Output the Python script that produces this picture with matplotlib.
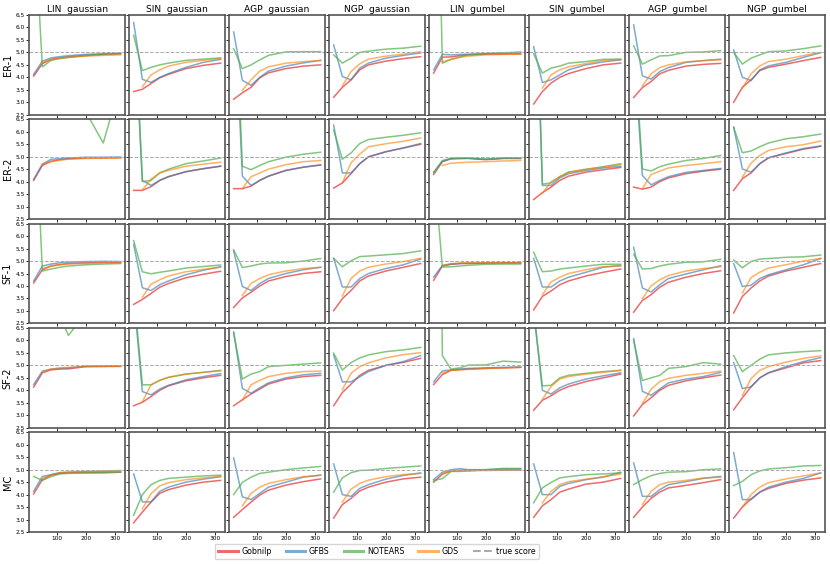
import matplotlib
matplotlib.use("Agg")
from matplotlib import pyplot as plt
from matplotlib.lines import Line2D

nan = float("nan")

n_samples = [20, 50, 80, 110, 140, 200, 260, 320]
columns = ["LIN  gaussian", "SIN  gaussian", "AGP  gaussian", "NGP  gaussian",
           "LIN  gumbel", "SIN  gumbel", "AGP  gumbel", "NGP  gumbel"]
rows = ["ER-1", "ER-2", "SF-1", "SF-2", "MC"]
true_score = 5.0

# one list per column, for each method and graph type
gobnilp_er1 = [
    [4.05, 4.55, 4.72, 4.78, 4.82, 4.88, 4.92, 4.95],
    [3.43, 3.52, 3.75, 3.98, 4.12, 4.35, 4.48, 4.57],
    [3.12, 3.38, 3.6, 3.98, 4.18, 4.35, 4.45, 4.5],
    [3.2, 3.6, 3.9, 4.3, 4.5, 4.65, 4.75, 4.83],
    [4.17, 4.81, 4.82, 4.87, 4.9, 4.93, 4.93, 4.94],
    [2.93, 3.43, 3.77, 4.0, 4.15, 4.35, 4.5, 4.57],
    [3.19, 3.59, 3.83, 4.14, 4.28, 4.45, 4.52, 4.56],
    [3.0, 3.6, 3.9, 4.27, 4.4, 4.53, 4.67, 4.8]]
gfbs_er1 = [
    [4.12, 4.65, 4.78, 4.83, 4.87, 4.92, 4.95, 4.97],
    [6.2, 3.92, 3.8, 4.0, 4.15, 4.4, 4.6, 4.72],
    [5.82, 3.88, 3.68, 4.0, 4.25, 4.45, 4.58, 4.68],
    [5.3, 4.03, 3.9, 4.37, 4.57, 4.77, 4.88, 4.98],
    [4.3, 4.92, 4.9, 4.92, 4.93, 4.95, 4.97, 4.98],
    [5.23, 3.79, 3.9, 4.1, 4.3, 4.5, 4.62, 4.7],
    [6.1, 4.06, 3.93, 4.23, 4.39, 4.6, 4.67, 4.73],
    [5.1, 4.0, 3.87, 4.3, 4.46, 4.6, 4.8, 4.99]]
notears_er1 = [
    [10.8, 4.42, 4.68, 4.75, 4.8, 4.87, 4.92, 4.95],
    [5.69, 4.27, 4.4, 4.5, 4.57, 4.68, 4.73, 4.78],
    [5.15, 4.35, 4.5, 4.7, 4.88, 5.02, 5.03, 5.03],
    [4.9, 4.57, 4.77, 5.0, 5.05, 5.13, 5.17, 5.25],
    [20.0, 4.57, 4.72, 4.82, 4.9, 4.95, 4.98, 5.02],
    [4.94, 4.17, 4.37, 4.45, 4.57, 4.63, 4.72, 4.73],
    [5.26, 4.53, 4.7, 4.86, 4.87, 5.0, 5.02, 5.07],
    [5.0, 4.53, 4.77, 4.9, 5.03, 5.06, 5.15, 5.26]]
gds_er1 = [
    [nan, 4.6, 4.72, 4.77, 4.8, 4.85, 4.88, 4.9],
    [nan, 3.62, 4.1, 4.3, 4.45, 4.6, 4.68, 4.75],
    [nan, 3.48, 3.9, 4.25, 4.42, 4.57, 4.63, 4.68],
    [nan, 3.66, 4.23, 4.54, 4.73, 4.85, 4.93, 5.03],
    [nan, 4.62, 4.72, 4.8, 4.85, 4.9, 4.92, 4.93],
    [nan, 3.57, 4.1, 4.3, 4.42, 4.55, 4.68, 4.72],
    [nan, 3.66, 4.14, 4.39, 4.5, 4.62, 4.67, 4.7],
    [nan, 3.57, 4.14, 4.46, 4.63, 4.73, 4.87, 5.0]]

gobnilp_er2 = [
    [4.05, 4.65, 4.82, 4.88, 4.92, 4.95, 4.95, 4.96],
    [3.65, 3.65, 3.8, 4.05, 4.2, 4.4, 4.52, 4.62],
    [3.72, 3.72, 3.82, 4.05, 4.22, 4.45, 4.58, 4.67],
    [3.74, 3.95, 4.32, 4.72, 5.0, 5.2, 5.35, 5.5],
    [4.29, 4.8, 4.92, 4.93, 4.93, 4.88, 4.93, 4.93],
    [3.28, 3.56, 3.78, 4.05, 4.22, 4.38, 4.48, 4.57],
    [3.78, 3.7, 3.78, 4.0, 4.15, 4.32, 4.42, 4.5],
    [3.65, 4.12, 4.35, 4.72, 4.95, 5.13, 5.3, 5.42]]
gfbs_er2 = [
    [4.1, 4.7, 4.9, 4.92, 4.95, 4.98, 4.98, 4.99],
    [11.0, 4.05, 3.85, 4.05, 4.2, 4.4, 4.52, 4.62],
    [12.0, 4.22, 3.85, 4.05, 4.22, 4.45, 4.58, 4.67],
    [6.27, 4.35, 4.35, 4.72, 4.99, 5.2, 5.35, 5.53],
    [4.38, 4.82, 4.92, 4.93, 4.94, 4.9, 4.94, 4.95],
    [15.0, 3.85, 3.85, 4.15, 4.32, 4.45, 4.55, 4.62],
    [9.5, 4.25, 3.87, 4.05, 4.2, 4.37, 4.45, 4.53],
    [6.18, 4.51, 4.38, 4.72, 4.96, 5.15, 5.33, 5.43]]
notears_er2 = [
    [12.0, 10.0, 9.0, 8.0, 7.5, 6.8, 5.55, 8.0],
    [11.6, 4.0, 4.05, 4.35, 4.5, 4.72, 4.83, 4.95],
    [13.3, 4.62, 4.48, 4.65, 4.8, 4.98, 5.1, 5.18],
    [6.07, 4.9, 5.15, 5.53, 5.69, 5.78, 5.86, 5.96],
    [4.35, 4.85, 4.93, 4.95, 4.95, 4.9, 4.95, 4.96],
    [15.3, 3.9, 3.95, 4.2, 4.38, 4.5, 4.6, 4.72],
    [10.0, 4.51, 4.43, 4.6, 4.7, 4.85, 4.93, 5.05],
    [6.18, 5.16, 5.23, 5.4, 5.55, 5.72, 5.8, 5.91]]
gds_er2 = [
    [nan, 4.72, 4.8, 4.86, 4.9, 4.93, 4.94, 4.95],
    [nan, 3.67, 4.1, 4.35, 4.45, 4.62, 4.7, 4.78],
    [nan, 3.72, 4.2, 4.35, 4.5, 4.68, 4.8, 4.85],
    [nan, 3.95, 4.76, 5.1, 5.4, 5.52, 5.62, 5.75],
    [nan, 4.65, 4.74, 4.76, 4.78, 4.8, 4.83, 4.85],
    [nan, 3.53, 4.0, 4.2, 4.38, 4.48, 4.58, 4.68],
    [nan, 3.72, 4.29, 4.42, 4.55, 4.65, 4.72, 4.8],
    [nan, 4.18, 4.74, 5.05, 5.25, 5.4, 5.48, 5.63]]

gobnilp_sf1 = [
    [4.12, 4.65, 4.8, 4.86, 4.9, 4.93, 4.95, 4.95],
    [3.26, 3.46, 3.7, 3.95, 4.1, 4.33, 4.47, 4.59],
    [3.14, 3.52, 3.75, 4.0, 4.2, 4.38, 4.5, 4.57],
    [3.01, 3.49, 3.82, 4.2, 4.4, 4.6, 4.75, 4.9],
    [4.23, 4.8, 4.87, 4.9, 4.9, 4.92, 4.93, 4.93],
    [3.04, 3.58, 3.8, 4.05, 4.2, 4.4, 4.55, 4.68],
    [2.95, 3.42, 3.65, 3.95, 4.15, 4.35, 4.5, 4.61],
    [2.92, 3.58, 3.92, 4.2, 4.4, 4.6, 4.75, 4.9]]
gfbs_sf1 = [
    [4.2, 4.8, 4.88, 4.93, 4.96, 4.98, 4.99, 4.98],
    [5.67, 3.93, 3.82, 4.05, 4.2, 4.45, 4.63, 4.77],
    [5.4, 3.98, 3.82, 4.1, 4.3, 4.5, 4.65, 4.75],
    [5.11, 3.96, 3.96, 4.3, 4.5, 4.7, 4.85, 5.08],
    [4.36, 4.82, 4.88, 4.9, 4.92, 4.92, 4.93, 4.93],
    [5.11, 3.96, 3.96, 4.2, 4.35, 4.55, 4.75, 4.82],
    [5.55, 3.92, 3.76, 4.05, 4.3, 4.48, 4.65, 4.81],
    [4.9, 3.98, 4.03, 4.3, 4.45, 4.65, 4.85, 5.1]]
notears_sf1 = [
    [12.5, 4.6, 4.68, 4.75, 4.8, 4.85, 4.88, 4.9],
    [5.82, 4.57, 4.49, 4.55, 4.6, 4.72, 4.78, 4.84],
    [5.45, 4.74, 4.8, 4.88, 4.92, 4.93, 5.0, 5.1],
    [5.11, 4.77, 5.01, 5.18, 5.2, 5.25, 5.3, 5.41],
    [8.9, 4.76, 4.77, 4.8, 4.83, 4.87, 4.88, 4.88],
    [5.35, 4.57, 4.6, 4.68, 4.72, 4.8, 4.87, 4.87],
    [5.27, 4.68, 4.7, 4.8, 4.87, 4.95, 4.97, 5.07],
    [5.04, 4.73, 4.98, 5.08, 5.1, 5.15, 5.17, 5.24]]
gds_sf1 = [
    [nan, 4.7, 4.8, 4.85, 4.88, 4.9, 4.92, 4.92],
    [nan, 3.55, 4.07, 4.25, 4.4, 4.57, 4.67, 4.75],
    [nan, 3.62, 4.1, 4.3, 4.45, 4.6, 4.7, 4.75],
    [nan, 3.6, 4.3, 4.6, 4.75, 4.88, 4.98, 5.11],
    [nan, 4.82, 4.9, 4.92, 4.93, 4.93, 4.94, 4.94],
    [nan, 3.65, 4.16, 4.35, 4.5, 4.65, 4.78, 4.8],
    [nan, 3.5, 4.0, 4.25, 4.42, 4.6, 4.7, 4.77],
    [nan, 3.72, 4.34, 4.55, 4.72, 4.85, 5.0, 5.11]]

gobnilp_sf2 = [
    [4.13, 4.7, 4.82, 4.85, 4.86, 4.95, 4.96, 4.97],
    [3.38, 3.52, 3.75, 4.0, 4.18, 4.38, 4.5, 4.6],
    [3.38, 3.62, 3.85, 4.05, 4.25, 4.45, 4.55, 4.6],
    [3.38, 3.91, 4.25, 4.6, 4.8, 5.0, 5.12, 5.28],
    [4.23, 4.63, 4.8, 4.83, 4.85, 4.88, 4.9, 4.92],
    [3.2, 3.6, 3.78, 4.0, 4.15, 4.35, 4.5, 4.65],
    [2.97, 3.43, 3.7, 4.0, 4.2, 4.38, 4.5, 4.61],
    [3.22, 3.7, 4.14, 4.5, 4.7, 4.9, 5.1, 5.19]]
gfbs_sf2 = [
    [4.23, 4.77, 4.85, 4.88, 4.9, 4.97, 4.98, 4.98],
    [7.8, 3.95, 3.82, 4.05, 4.2, 4.42, 4.55, 4.67],
    [6.34, 4.08, 3.88, 4.1, 4.3, 4.5, 4.62, 4.68],
    [5.42, 4.34, 4.34, 4.54, 4.75, 5.0, 5.15, 5.39],
    [4.34, 4.78, 4.82, 4.85, 4.88, 4.9, 4.92, 4.93],
    [7.2, 4.0, 3.85, 4.1, 4.25, 4.45, 4.58, 4.7],
    [6.07, 3.96, 3.8, 4.05, 4.3, 4.45, 4.55, 4.72],
    [5.11, 4.07, 4.14, 4.5, 4.7, 4.95, 5.15, 5.31]]
notears_sf2 = [
    [12.0, 10.0, 8.5, 7.0, 6.2, 7.1, 8.0, 9.0],
    [8.0, 4.22, 4.22, 4.4, 4.52, 4.65, 4.72, 4.8],
    [6.3, 4.45, 4.65, 4.75, 4.95, 5.0, 5.05, 5.1],
    [5.49, 4.81, 5.11, 5.3, 5.42, 5.55, 5.62, 5.72],
    [40.0, 5.39, 4.85, 4.9, 5.01, 5.02, 5.17, 5.13],
    [7.2, 4.18, 4.2, 4.5, 4.6, 4.68, 4.75, 4.8],
    [6.0, 4.39, 4.5, 4.6, 4.88, 4.95, 5.11, 5.05],
    [5.39, 4.75, 5.0, 5.25, 5.42, 5.5, 5.55, 5.59]]
gds_sf2 = [
    [nan, 4.72, 4.85, 4.9, 4.92, 4.95, 4.95, 4.95],
    [nan, 3.54, 4.22, 4.4, 4.52, 4.65, 4.72, 4.78],
    [nan, 3.6, 4.22, 4.4, 4.55, 4.68, 4.75, 4.77],
    [nan, 4.03, 4.68, 4.95, 5.1, 5.3, 5.43, 5.51],
    [nan, 4.7, 4.8, 4.82, 4.84, 4.87, 4.9, 4.92],
    [nan, 3.64, 4.15, 4.45, 4.55, 4.65, 4.72, 4.8],
    [nan, 3.47, 4.04, 4.35, 4.48, 4.6, 4.68, 4.77],
    [nan, 3.8, 4.47, 4.8, 4.95, 5.13, 5.28, 5.38]]

gobnilp_mc = [
    [4.03, 4.6, 4.78, 4.85, 4.88, 4.88, 4.88, 4.9],
    [2.87, 3.3, 3.7, 4.05, 4.2, 4.38, 4.5, 4.57],
    [3.09, 3.4, 3.7, 3.98, 4.18, 4.38, 4.52, 4.63],
    [3.06, 3.6, 3.85, 4.15, 4.3, 4.5, 4.63, 4.7],
    [4.5, 4.82, 4.95, 4.97, 4.97, 4.97, 4.98, 4.98],
    [3.09, 3.55, 3.8, 4.1, 4.22, 4.42, 4.5, 4.65],
    [3.09, 3.5, 3.85, 4.1, 4.27, 4.37, 4.48, 4.6],
    [3.06, 3.5, 3.83, 4.1, 4.25, 4.45, 4.58, 4.67]]
gfbs_mc = [
    [4.13, 4.73, 4.8, 4.88, 4.9, 4.92, 4.93, 4.95],
    [4.83, 3.71, 3.71, 4.13, 4.3, 4.5, 4.62, 4.72],
    [5.47, 3.91, 3.8, 4.05, 4.3, 4.5, 4.7, 4.78],
    [5.23, 4.0, 3.93, 4.25, 4.4, 4.62, 4.77, 4.87],
    [4.6, 4.9, 5.0, 5.04, 5.0, 5.0, 5.03, 5.03],
    [5.23, 4.0, 4.0, 4.33, 4.45, 4.6, 4.7, 4.9],
    [5.27, 3.93, 3.93, 4.2, 4.4, 4.52, 4.65, 4.73],
    [5.69, 3.8, 3.8, 4.1, 4.3, 4.5, 4.65, 4.87]]
notears_mc = [
    [4.73, 4.57, 4.72, 4.83, 4.85, 4.87, 4.88, 4.9],
    [3.17, 4.0, 4.4, 4.57, 4.65, 4.7, 4.75, 4.78],
    [4.0, 4.49, 4.7, 4.85, 4.9, 5.0, 5.07, 5.13],
    [4.1, 4.67, 4.88, 4.97, 4.98, 5.05, 5.1, 5.15],
    [4.57, 4.64, 4.93, 4.93, 4.95, 5.0, 5.05, 5.05],
    [3.67, 4.27, 4.49, 4.67, 4.72, 4.8, 4.83, 4.87],
    [4.4, 4.6, 4.76, 4.85, 4.9, 4.92, 5.0, 5.03],
    [4.36, 4.53, 4.8, 4.95, 5.03, 5.08, 5.15, 5.17]]
gds_mc = [
    [nan, 4.65, 4.8, 4.88, 4.9, 4.93, 4.95, 4.97],
    [nan, 3.43, 4.04, 4.35, 4.48, 4.6, 4.67, 4.73],
    [nan, 3.55, 4.05, 4.3, 4.45, 4.6, 4.72, 4.78],
    [nan, 3.7, 4.22, 4.45, 4.58, 4.72, 4.8, 4.85],
    [nan, 4.85, 4.93, 4.97, 4.97, 4.98, 5.0, 5.0],
    [nan, 3.67, 4.13, 4.4, 4.52, 4.62, 4.72, 4.82],
    [nan, 3.6, 4.13, 4.4, 4.5, 4.57, 4.67, 4.7],
    [nan, 3.5, 4.0, 4.3, 4.48, 4.63, 4.75, 4.87]]

methods = ["Gobnilp", "GFBS", "NOTEARS", "GDS"]
colors = ["#e41a1c", "#377eb8", "#4daf4a", "#ff7f00"]
alphas = [0.65, 0.65, 0.7, 0.6]

results = {
    "ER-1": [gobnilp_er1, gfbs_er1, notears_er1, gds_er1],
    "ER-2": [gobnilp_er2, gfbs_er2, notears_er2, gds_er2],
    "SF-1": [gobnilp_sf1, gfbs_sf1, notears_sf1, gds_sf1],
    "SF-2": [gobnilp_sf2, gfbs_sf2, notears_sf2, gds_sf2],
    "MC": [gobnilp_mc, gfbs_mc, notears_mc, gds_mc],
}

fig, axes = plt.subplots(len(rows), len(columns), figsize=(8.3, 5.64), dpi=100,
                         sharex=True, sharey=True)
fig.subplots_adjust(left=0.0353, right=0.994, top=0.9734, bottom=0.0567,
                    wspace=0.045, hspace=0.046)

for r, row in enumerate(rows):
    for c, col in enumerate(columns):
        ax = axes[r][c]
        for m in range(len(methods)):
            ax.plot(n_samples, results[row][m][c], color=colors[m], alpha=alphas[m], lw=1.1)
        ax.axhline(true_score, color="#aaaaaa", ls="--", lw=0.7)
        ax.set_ylim(2.5, 6.5)
        ax.set_xlim(5, 335)
        ax.set_yticks([2.5, 3.0, 3.5, 4.0, 4.5, 5.0, 5.5, 6.0, 6.5])
        ax.set_xticks([100, 200, 300])
        ax.tick_params(labelsize=4.2, length=2.2, width=0.6, pad=1)
        for s in ax.spines.values():
            s.set_color("#555555")
            s.set_linewidth(1.2)
        if r == 0:
            ax.set_title(col, fontsize=6.6, pad=2.5)
        if c == 0:
            ax.set_ylabel(row, fontsize=7, labelpad=2)

handles = [Line2D([], [], color=colors[m], alpha=alphas[m], lw=2.2) for m in range(len(methods))]
handles.append(Line2D([], [], color="#aaaaaa", ls="--", lw=1.5))
fig.legend(handles, methods + ["true score"], loc="lower center", bbox_to_anchor=(0.454, 0.009),
           borderaxespad=0, ncol=5, fontsize=5.7, handlelength=2.5, handletextpad=0.45,
           columnspacing=1.75, frameon=True)

plt.savefig("out.png")
